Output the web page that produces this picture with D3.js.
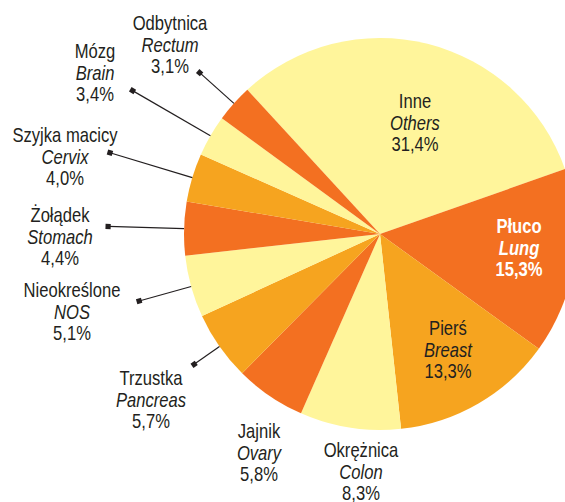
<!DOCTYPE html>
<html>
<head>
<meta charset="utf-8">
<script src="https://cdn.jsdelivr.net/npm/d3@7"></script>
<style>
  body { margin: 0; background: #fff; }
  text { font-family: "Liberation Sans", Arial, sans-serif; fill: #231f20; }
</style>
</head>
<body>
<div class="chart"></div>
<script>
// data, clockwise from "Inne"
let namesPl = ["Inne", "Płuco", "Pierś", "Okrężnica", "Jajnik", "Trzustka", "Nieokreślone", "Żołądek", "Szyjka macicy", "Mózg", "Odbytnica"];
let namesEn = ["Others", "Lung", "Breast", "Colon", "Ovary", "Pancreas", "NOS", "Stomach", "Cervix", "Brain", "Rectum"];
let shares = [31.4, 15.3, 13.3, 8.3, 5.8, 5.7, 5.1, 4.4, 4.0, 3.4, 3.1];

// layout
let width = 565, height = 502;
let cx = 380, cy = 234, radius = 196;
let startDeg = -42.6;
let palette = ["#fff59b", "#f37021", "#f6a41f"];
// label block centre x, first baseline y
let labelPos = [[415, 108], [519, 233], [448, 335], [361, 457], [259, 438], [151, 385], [72, 297], [60, 222], [65, 142], [95, 58], [170, 30]];
// leader line length beyond the edge (0 = no leader)
let leaderLen = [0, 0, 0, 0, 0, 31, 54, 76, 86, 90, 46];
let lineH = 21.7;
let fontSize = 20;
let squeeze = 0.83; // condensed look

let svg = d3.select(".chart").append("svg")
  .attr("width", width)
  .attr("height", height);

let g = svg.append("g").attr("transform", "translate(" + cx + "," + cy + ")");

let s0 = startDeg * Math.PI / 180;
let pie = d3.pie().sort(null).value((d) => d).startAngle(s0).endAngle(s0 + 2 * Math.PI);
let arcs = pie(shares);
let arc = d3.arc().innerRadius(0).outerRadius(radius);

g.selectAll(".slice")
  .data(arcs)
  .enter()
  .append("path")
  .attr("class", "slice")
  .attr("d", arc)
  .attr("fill", (d, i) => palette[i % 3]);

// leader lines
arcs.forEach((d, i) => {
  if (!leaderLen[i]) return;
  let a = (d.startAngle + d.endAngle) / 2;
  let x1 = radius * Math.sin(a), y1 = -radius * Math.cos(a);
  let r2 = radius + leaderLen[i];
  let x2 = r2 * Math.sin(a), y2 = -r2 * Math.cos(a);
  g.append("line")
    .attr("x1", x1).attr("y1", y1)
    .attr("x2", x2).attr("y2", y2)
    .attr("stroke", "#231f20")
    .attr("stroke-width", 1.2);
  let rot = (a * 180) / Math.PI;
  g.append("rect")
    .attr("x", -2.6).attr("y", -2.6)
    .attr("width", 5.2).attr("height", 5.2)
    .attr("fill", "#231f20")
    .attr("transform", "translate(" + x2 + "," + y2 + ") rotate(" + rot + ")");
});

// labels
let fmt = (v) => v.toFixed(1).replace(".", ",") + "%";
arcs.forEach((d, i) => {
  let p = labelPos[i];
  let white = i === 1;
  let t = svg.append("text")
    .attr("text-anchor", "middle")
    .attr("font-size", fontSize)
    .attr("transform", "translate(" + p[0] + ",0) scale(" + squeeze + ",1)")
    .style("fill", white ? "#ffffff" : "#231f20")
    .attr("font-weight", white ? "bold" : "normal");
  t.append("tspan").attr("x", 0).attr("y", p[1]).text(namesPl[i]);
  t.append("tspan").attr("x", 0).attr("y", p[1] + lineH).attr("font-style", "italic").text(namesEn[i]);
  t.append("tspan").attr("x", 0).attr("y", p[1] + 2 * lineH).text(fmt(shares[i]));
});
</script>
</body>
</html>
